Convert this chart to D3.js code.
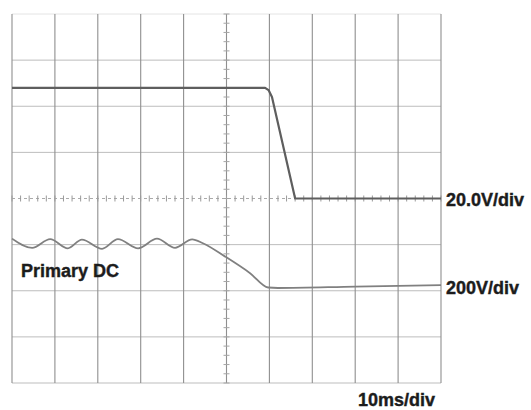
<!DOCTYPE html>
<html lang="en">
<head>
  <meta charset="UTF-8">
  <title>Primary DC hold-up scope capture</title>
  <script src="https://d3js.org/d3.v7.min.js"></script>
  <style>
    body {
      margin: 0;
      background-color: #fff;
    }
    .label {
      font-family: "Liberation Sans", Arial, sans-serif;
      font-weight: bold;
      font-size: 18px;
      fill: #1c1c1c;
      stroke: #1c1c1c;
      stroke-width: 0.4px;
    }
  </style>
</head>
<body>
<div id="scope"></div>

<script>
// Channel 1: output, 20 V/div, ground on the centre line
const ch1TimeMs = [0, 59.0, 59.8, 60.6, 66.0, 100];
const ch1Volts  = [48, 48, 47, 44, 0, 0];

// Channel 2: primary DC, 200 V/div, position in divisions from centre
const ch2TimeMs = [0, 4.7, 8.9, 13.0, 16.3, 21.0, 24.7, 29.4, 33.8, 38.0, 42.0,
                   44.5, 49.7, 55.5, 59.7, 62, 80, 100];
const ch2Div    = [-0.87, -1.07, -0.88, -1.08, -0.89, -1.09, -0.88, -1.08, -0.87, -1.07, -0.885,
                   -0.97, -1.26, -1.62, -1.93, -1.94, -1.91, -1.88];

const ch1VoltsPerDiv = 20;
const timeLabel = "10ms/div";
const ch1Label = "20.0V/div";
const ch2Label = "200V/div";
const traceName = "Primary DC";

const width = 531, height = 410;

const svg = d3.select("#scope")
  .append("svg")
  .attr("width", width)
  .attr("height", height);

// 10 x 8 division graticule
const x = d3.scaleLinear().domain([0, 100]).range([12, 441]);
const y = d3.scaleLinear().domain([-4, 4]).range([383, 14]);

const grid = svg.append("g");

// horizontal division lines (lighter)
grid.selectAll("line.h")
  .data(d3.range(-4, 5).filter(d => d !== 0))
  .enter().append("line")
  .attr("class", "h")
  .attr("x1", x(0)).attr("x2", x(100))
  .attr("y1", d => y(d)).attr("y2", d => y(d))
  .style("stroke", d => d === 4 ? "#e4e4e4" : "#bdbdbd")
  .style("stroke-width", 1);

// vertical division lines (darker)
grid.selectAll("line.v")
  .data(d3.range(0, 101, 10))
  .enter().append("line")
  .attr("class", "v")
  .attr("x1", d => x(d)).attr("x2", d => x(d))
  .attr("y1", y(4)).attr("y2", y(-4))
  .style("stroke", "#8f8f8f")
  .style("stroke-width", 1.1);

// centre horizontal: dotted with minor ticks
grid.append("line")
  .attr("x1", x(0)).attr("x2", x(100))
  .attr("y1", y(0)).attr("y2", y(0))
  .style("stroke", "#aaa")
  .style("stroke-dasharray", "3,3");

grid.selectAll("line.mx")
  .data(d3.range(0, 100.01, 2))
  .enter().append("line")
  .attr("class", "mx")
  .attr("x1", d => x(d)).attr("x2", d => x(d))
  .attr("y1", y(0) - 3).attr("y2", y(0) + 3)
  .style("stroke", "#9a9a9a");

// centre vertical minor ticks
grid.selectAll("line.my")
  .data(d3.range(-4, 4.01, 0.2))
  .enter().append("line")
  .attr("class", "my")
  .attr("x1", x(50) - 3).attr("x2", x(50) + 3)
  .attr("y1", d => y(d)).attr("y2", d => y(d))
  .style("stroke", "#a5a5a5");

// traces
const ch1Line = d3.line()
  .x((d, i) => x(ch1TimeMs[i]))
  .y(d => y(d / ch1VoltsPerDiv));

svg.append("path")
  .datum(ch1Volts)
  .attr("d", ch1Line)
  .style("fill", "none")
  .style("stroke", "#5e5e5e")
  .style("stroke-width", 2.2)
  .style("stroke-linejoin", "round");

const ch2Line = d3.line()
  .x((d, i) => x(ch2TimeMs[i]))
  .y(d => y(d))
  .curve(d3.curveMonotoneX);

svg.append("path")
  .datum(ch2Div)
  .attr("d", ch2Line)
  .style("fill", "none")
  .style("stroke", "#808080")
  .style("stroke-width", 1.8);

// labels
svg.append("text").attr("class", "label")
  .attr("x", x(100) + 5)
  .attr("y", y(ch1Volts[ch1Volts.length - 1] / ch1VoltsPerDiv) + 7.5)
  .text(ch1Label);

svg.append("text").attr("class", "label")
  .attr("x", x(100) + 5)
  .attr("y", y(ch2Div[ch2Div.length - 1]) + 9)
  .text(ch2Label);

svg.append("text").attr("class", "label")
  .attr("x", x(100) - 6)
  .attr("y", 406)
  .style("text-anchor", "end")
  .text(timeLabel);

svg.append("text").attr("class", "label")
  .attr("x", 21)
  .attr("y", 277)
  .text(traceName);
</script>
</body>
</html>
